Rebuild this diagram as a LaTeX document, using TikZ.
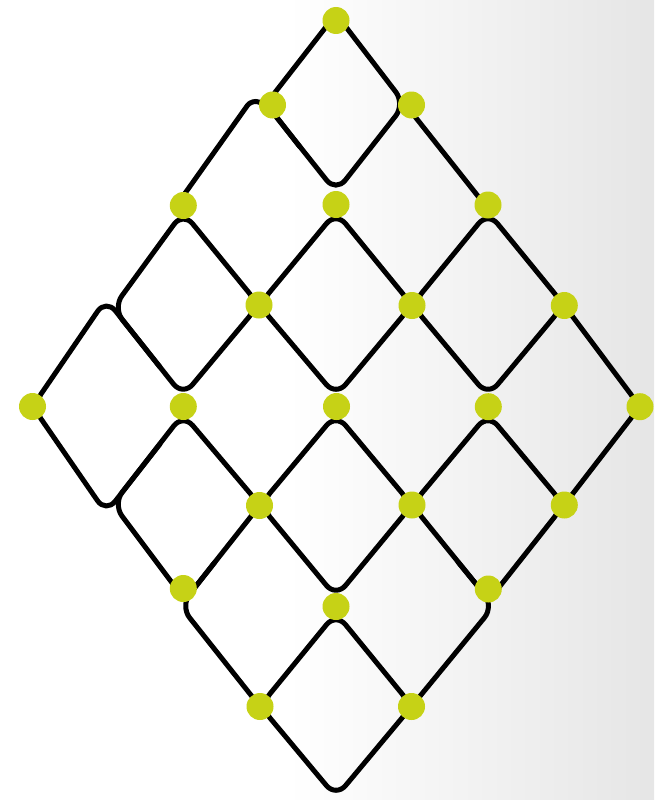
\documentclass[tikz,border=0pt]{standalone}
\definecolor{dotc}{RGB}{198,210,22}
\pgfdeclarehorizontalshading{bgshade}{100bp}{color(0bp)=(white); color(47bp)=(white); color(75bp)=(black!10); color(100bp)=(black!10)}
\begin{document}
\begin{tikzpicture}[x=1pt,y=-1pt,
  wire/.style={line width=5pt, rounded corners=15pt, line join=round, line cap=round, draw=black},
  dotnode/.style={circle, fill=dotc, minimum size=27pt, inner sep=0pt, outer sep=0pt}]
\useasboundingbox (0,0) rectangle (654,800);
\shade[shading=bgshade] (0,0) rectangle (654,800);

% lattice corner coordinates
\coordinate (Atop) at (336,14);
\coordinate (Aright) at (405,104);
\coordinate (Abot) at (336,192);
\coordinate (Aleft) at (266,104);
\coordinate (Ptop) at (252,99);
\coordinate (Pjoin) at (268,106);

% top diamond and its neighbours
\draw[wire] (Atop) -- (Aright) -- (Abot) -- (Aleft) -- cycle;
\draw[wire, rounded corners=8pt] (176,206) -- (Ptop) -- (Pjoin) -- (300,147);
\draw[wire] (Aright) -- (485,205);

% regular cells
\draw[wire] (183,212) -- (259,305) -- (183,396) -- (113,308) -- cycle;
\draw[wire] (336,212) -- (412,305) -- (336,396) -- (259,305) -- cycle;
\draw[wire] (488,212) -- (564,305) -- (488,396) -- (412,305) -- cycle;
\draw[wire] (183,414) -- (260,505) -- (185,600) -- (113,504) -- cycle;
\draw[wire] (336,414) -- (412,505) -- (336,597) -- (260,505) -- cycle;
\draw[wire] (488,414) -- (564,505) -- (489,600) -- (412,505) -- cycle;
\draw[wire] (336,613) -- (412,706) -- (336,797) -- (260,706) -- cycle;

% left and right big cells
\draw[wire] (160,367) -- (106,299) -- (32.5,406.5) -- (106,513) -- (160,444);
\draw[wire] (564,305) -- (640,406.5) -- (564,505);

% lower side strands
\draw[wire] (215,562) -- (180.3,606) -- (260,706.5);
\draw[wire] (458,562) -- (494,606) -- (411.5,706.5);

% dots
\node[dotnode] (T)  at (336,20.5) {};
\node[dotnode] (L2) at (272.5,105) {};
\node[dotnode] (R2) at (411.5,105) {};
\node[dotnode] (A3) at (183.3,205.5) {};
\node[dotnode] (B3) at (336,204.5) {};
\node[dotnode] (C3) at (488,205) {};
\node[dotnode] (A4) at (259,305) {};
\node[dotnode] (B4) at (412,305.5) {};
\node[dotnode] (C4) at (564.3,305.5) {};
\node[dotnode] (A5) at (32.5,406.5) {};
\node[dotnode] (B5) at (183.3,406.5) {};
\node[dotnode] (C5) at (336.5,406.5) {};
\node[dotnode] (D5) at (488.3,406.7) {};
\node[dotnode] (E5) at (640,406.7) {};
\node[dotnode] (A6) at (259.5,505.5) {};
\node[dotnode] (B6) at (412,505) {};
\node[dotnode] (C6) at (564.3,505) {};
\node[dotnode] (A7) at (183.3,588.5) {};
\node[dotnode] (C7) at (488.3,589) {};
\node[dotnode] (B7) at (336,606.5) {};
\node[dotnode] (A8) at (260,706.5) {};
\node[dotnode] (B8) at (411.5,706.5) {};
\end{tikzpicture}
\end{document}
